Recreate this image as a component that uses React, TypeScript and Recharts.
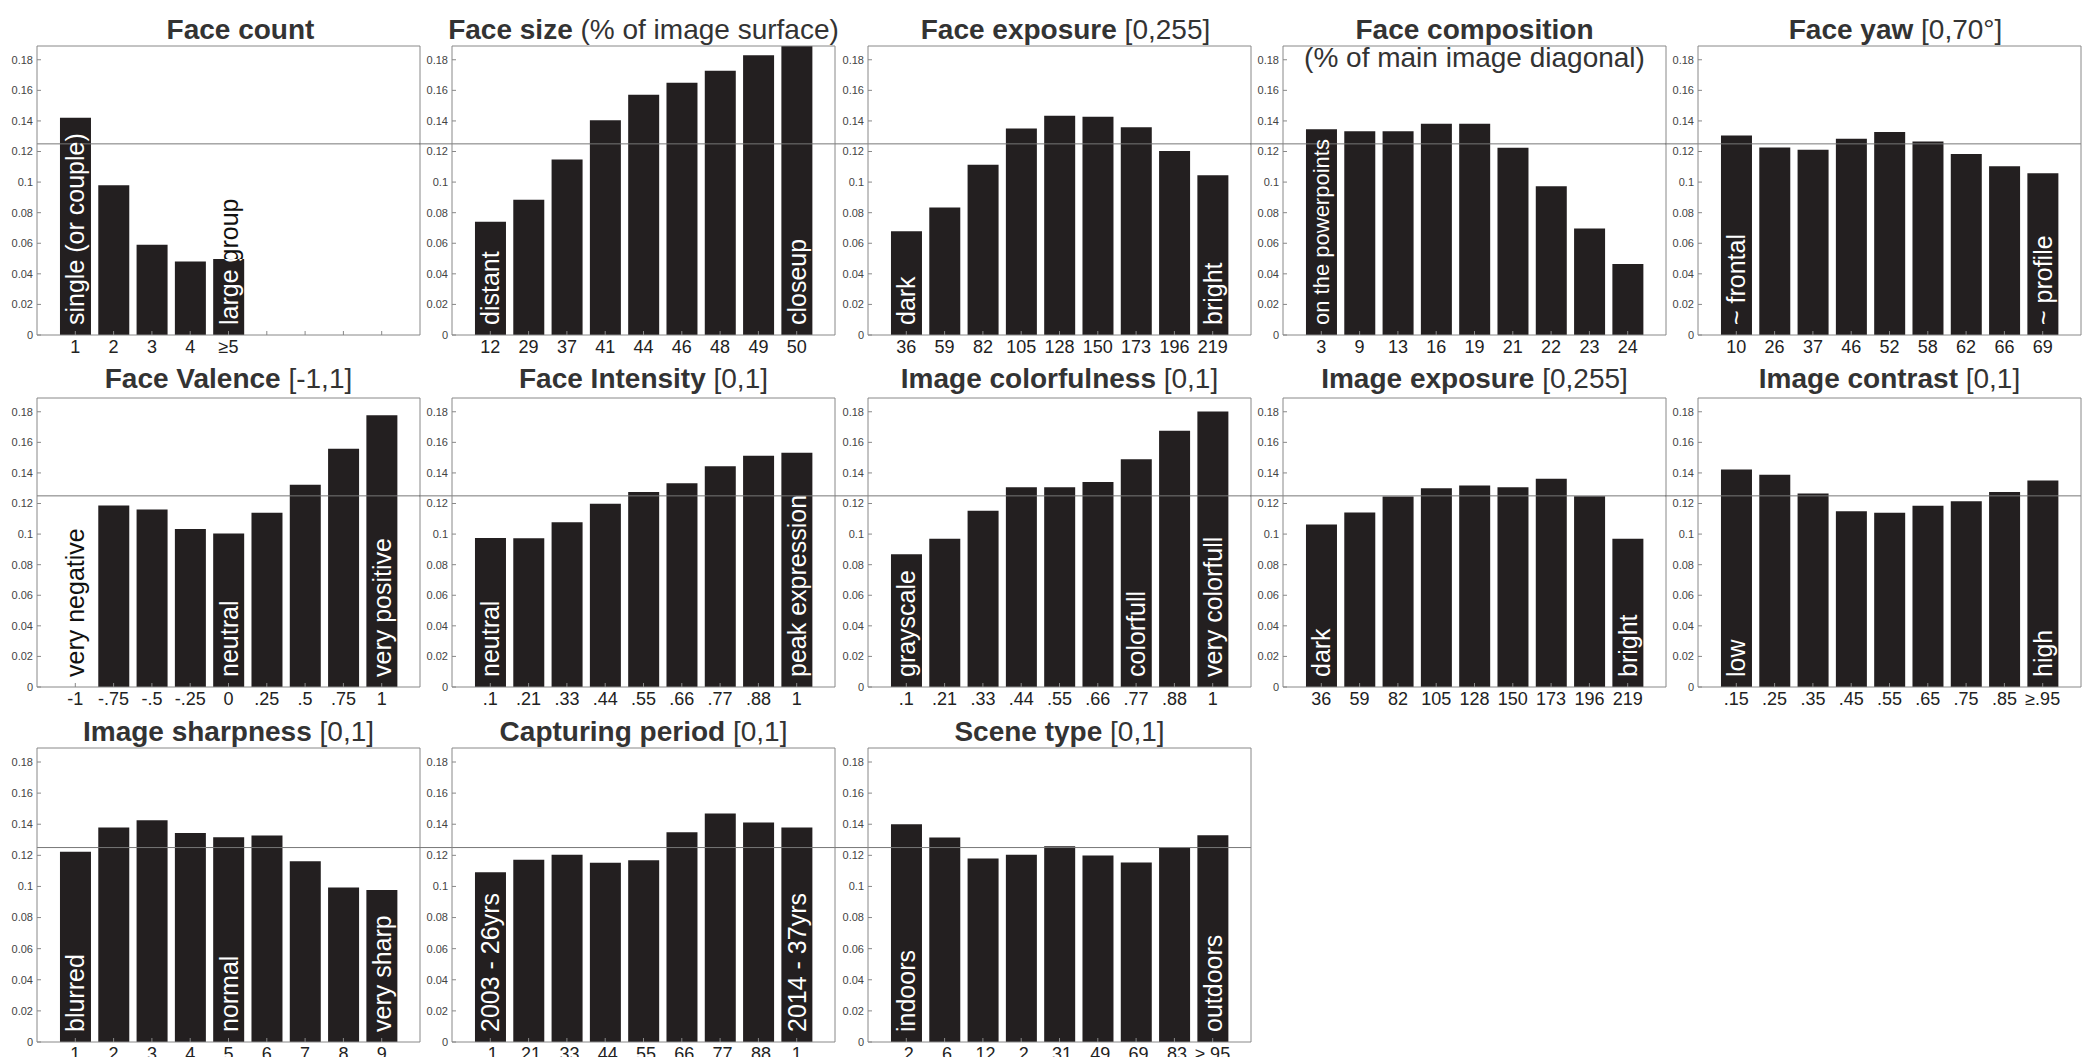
import React from "react";
import { BarChart, Bar, XAxis, YAxis, ReferenceLine, LabelList } from "recharts";

const yTicks = [0, 0.02, 0.04, 0.06, 0.08, 0.1, 0.12, 0.14, 0.16, 0.18];
const uniformLevel = 0.125;

// row 1
const faceCountTicks = ["1", "2", "3", "4", "≥5", "", "", "", ""];
const faceCountValues = [0.142, 0.098, 0.059, 0.048, 0.0497, 0, 0, 0, 0];
const faceCountNotes = ["single (or couple)", "", "", "", "large group", "", "", "", ""];

const faceSizeTicks = ["12", "29", "37", "41", "44", "46", "48", "49", "50"];
const faceSizeValues = [0.074, 0.0884, 0.1148, 0.1405, 0.1571, 0.165, 0.1728, 0.1829, 0.195];
const faceSizeNotes = ["distant", "", "", "", "", "", "", "", "closeup"];

const faceExposureTicks = ["36", "59", "82", "105", "128", "150", "173", "196", "219"];
const faceExposureValues = [0.0679, 0.0834, 0.1113, 0.1351, 0.1434, 0.1427, 0.1359, 0.1204, 0.1045];
const faceExposureNotes = ["dark", "", "", "", "", "", "", "", "bright"];

const faceCompTicks = ["3", "9", "13", "16", "19", "21", "22", "23", "24"];
const faceCompValues = [0.1346, 0.1333, 0.1333, 0.1381, 0.1381, 0.1224, 0.0973, 0.0696, 0.0465];
const faceCompNotes = ["on the powerpoints", "", "", "", "", "", "", "", ""];

const faceYawTicks = ["10", "26", "37", "46", "52", "58", "62", "66", "69"];
const faceYawValues = [0.1305, 0.1226, 0.1211, 0.1283, 0.1327, 0.1266, 0.1183, 0.1104, 0.1058];
const faceYawNotes = ["~ frontal", "", "", "", "", "", "", "", "~ profile"];

// row 2
const valenceTicks = ["-1", "-.75", "-.5", "-.25", "0", ".25", ".5", ".75", "1"];
const valenceValues = [0, 0.1187, 0.1161, 0.1034, 0.1004, 0.1139, 0.1322, 0.1558, 0.1778];
const valenceNotes = ["very negative", "", "", "", "neutral", "", "", "", "very positive"];

const intensityTicks = [".1", ".21", ".33", ".44", ".55", ".66", ".77", ".88", "1"];
const intensityValues = [0.0975, 0.0973, 0.1078, 0.1198, 0.1276, 0.1333, 0.1444, 0.1512, 0.1532];
const intensityNotes = ["neutral", "", "", "", "", "", "", "", "peak expression"];

const colorTicks = [".1", ".21", ".33", ".44", ".55", ".66", ".77", ".88", "1"];
const colorValues = [0.0868, 0.0969, 0.1152, 0.1307, 0.1307, 0.134, 0.149, 0.1676, 0.1802];
const colorNotes = ["grayscale", "", "", "", "", "", "colorfull", "", "very colorfull"];

const imgExposureTicks = ["36", "59", "82", "105", "128", "150", "173", "196", "219"];
const imgExposureValues = [0.1063, 0.1141, 0.1246, 0.13, 0.1318, 0.1307, 0.1362, 0.1248, 0.0969];
const imgExposureNotes = ["dark", "", "", "", "", "", "", "", "bright"];

const contrastTicks = [".15", ".25", ".35", ".45", ".55", ".65", ".75", ".85", "≥.95"];
const contrastValues = [0.1423, 0.1388, 0.1266, 0.115, 0.1139, 0.1185, 0.1215, 0.1276, 0.1351];
const contrastNotes = ["low", "", "", "", "", "", "", "", "high"];

// row 3
const sharpTicks = ["1", "2", "3", "4", "5", "6", "7", "8", "9"];
const sharpValues = [0.1223, 0.1379, 0.1426, 0.1344, 0.1316, 0.1327, 0.1162, 0.0994, 0.0977];
const sharpNotes = ["blurred", "", "", "", "normal", "", "", "", "very sharp"];

const periodTicks = [".1", ".21", ".33", ".44", ".55", ".66", ".77", ".88", "1"];
const periodValues = [0.1091, 0.1171, 0.1204, 0.1152, 0.1169, 0.1348, 0.1469, 0.1411, 0.1379];
const periodNotes = ["2003 - 26yrs", "", "", "", "", "", "", "", "2014 - 37yrs"];

const sceneTicks = [".2", ".6", ".12", ".2", ".31", ".49", ".69", ".83", "≥.95"];
const sceneValues = [0.14, 0.1314, 0.118, 0.1204, 0.1258, 0.1199, 0.1154, 0.1247, 0.1329];
const sceneNotes = ["indoors", "", "", "", "", "", "", "", "outdoors"];

const FONT = "'Liberation Sans', Arial, sans-serif";
const COL_LEFT = [37, 452, 868, 1283, 1698];
const ROW_TOP = [46, 398, 748];
const ROW_BOTTOM = [335, 687, 1042];
const ROW_BASELINE = [40, 389, 742];
const BOX_W = 383;
const AXIS_W = 33;
const Y_MAX = 0.189;
const TICK_MARGIN = 9;

const panels = [
  { id: "fc", row: 0, col: 0, bold: "Face count", rest: "", shift: 12, ticks: faceCountTicks, values: faceCountValues, notes: faceCountNotes },
  { id: "fs", row: 0, col: 1, bold: "Face size ", rest: "(% of image surface)", ticks: faceSizeTicks, values: faceSizeValues, notes: faceSizeNotes },
  { id: "fe", row: 0, col: 2, bold: "Face exposure ", rest: "[0,255]", shift: 6, ticks: faceExposureTicks, values: faceExposureValues, notes: faceExposureNotes },
  { id: "fp", row: 0, col: 3, bold: "Face composition", rest: "", sub: "(% of main image diagonal)", noteSize: 22, ticks: faceCompTicks, values: faceCompValues, notes: faceCompNotes },
  { id: "fy", row: 0, col: 4, bold: "Face yaw ", rest: "[0,70°]", shift: 6, ticks: faceYawTicks, values: faceYawValues, notes: faceYawNotes },
  { id: "fv", row: 1, col: 0, bold: "Face Valence ", rest: "[-1,1]", ticks: valenceTicks, values: valenceValues, notes: valenceNotes },
  { id: "fi", row: 1, col: 1, bold: "Face Intensity ", rest: "[0,1]", ticks: intensityTicks, values: intensityValues, notes: intensityNotes },
  { id: "ic", row: 1, col: 2, bold: "Image colorfulness ", rest: "[0,1]", ticks: colorTicks, values: colorValues, notes: colorNotes },
  { id: "ie", row: 1, col: 3, bold: "Image exposure ", rest: "[0,255]", ticks: imgExposureTicks, values: imgExposureValues, notes: imgExposureNotes },
  { id: "ik", row: 1, col: 4, bold: "Image contrast ", rest: "[0,1]", ticks: contrastTicks, values: contrastValues, notes: contrastNotes },
  { id: "is", row: 2, col: 0, bold: "Image sharpness ", rest: "[0,1]", ticks: sharpTicks, values: sharpValues, notes: sharpNotes },
  { id: "cp", row: 2, col: 1, bold: "Capturing period ", rest: "[0,1]", ticks: periodTicks, values: periodValues, notes: periodNotes },
  { id: "st", row: 2, col: 2, bold: "Scene type ", rest: "[0,1]", ticks: sceneTicks, values: sceneValues, notes: sceneNotes },
];

function Panel({ p }: { p: any }) {
  const boxTop = ROW_TOP[p.row];
  const boxH = ROW_BOTTOM[p.row] - boxTop;
  const data = p.ticks.map((t: string, i: number) => ({ label: t, value: p.values[i], note: p.notes[i] }));
  const pad = BOX_W / 20;
  const noteSize = p.noteSize || 25;
  const extLeft = p.col === 0 ? 0 : AXIS_W;

  const noteText = (cx: number, y0: number, fill: string, text: string) => (
    <text
      x={cx}
      y={y0}
      transform={`rotate(-90 ${cx} ${y0})`}
      textAnchor="start"
      dominantBaseline="central"
      fontFamily={FONT}
      fontSize={noteSize}
      fill={fill}
    >
      {text}
    </text>
  );

  // notes over drawn bars: black outside the bar, white inside it
  const renderNote = (props: any) => {
    const vb = props.viewBox || props;
    const text = props.value;
    if (!text || !(vb.height > 0)) return null;
    const cx = vb.x + vb.width / 2;
    const y0 = vb.y + vb.height - 10;
    const clipId = `clip-${p.id}-${props.index}`;
    return (
      <g>
        <defs>
          <clipPath id={clipId}>
            <rect x={vb.x} y={vb.y} width={vb.width} height={vb.height} />
          </clipPath>
        </defs>
        {noteText(cx, y0, "#111", text)}
        <g clipPath={`url(#${clipId})`}>{noteText(cx, y0, "#fff", text)}</g>
      </g>
    );
  };

  // tick label, plus the note of an empty slot (no bar) drawn in black
  const renderTick = (props: any) => {
    const { x, y, index, payload } = props;
    const baseY = y + 4 - TICK_MARGIN;
    const note = p.notes[index];
    return (
      <g>
        <text x={x} y={y} dy="0.71em" textAnchor="middle" fontSize={18} fill="#222" fontFamily={FONT}>
          {payload.value}
        </text>
        {note && !(p.values[index] > 0) ? noteText(x, baseY - 10, "#111", note) : null}
      </g>
    );
  };

  return (
    <div style={{ position: "absolute", left: COL_LEFT[p.col] - AXIS_W, top: boxTop - 1 }}>
      <BarChart
        width={AXIS_W + BOX_W + 1}
        height={boxH + 1 + 30}
        data={data}
        margin={{ top: 1, right: 1, bottom: 0, left: 0 }}
        barCategoryGap="10%"
      >
        <XAxis
          xAxisId="b"
          dataKey="label"
          height={30}
          interval={0}
          padding={{ left: pad, right: pad }}
          tickSize={-4}
          tickMargin={TICK_MARGIN}
          stroke="#888"
          tick={renderTick}
        />
        <XAxis
          xAxisId="t"
          dataKey="label"
          orientation="top"
          mirror
          interval={0}
          padding={{ left: pad, right: pad }}
          tick={false}
          tickSize={4}
          stroke="#888"
        />
        <YAxis
          yAxisId="l"
          domain={[0, Y_MAX]}
          ticks={yTicks}
          interval={0}
          allowDataOverflow
          width={AXIS_W}
          tickSize={-4}
          tickMargin={8}
          stroke="#888"
          tick={{ fontSize: 11, fill: "#444", fontFamily: FONT }}
        />
        <YAxis
          yAxisId="r"
          orientation="right"
          mirror
          domain={[0, Y_MAX]}
          ticks={yTicks}
          interval={0}
          allowDataOverflow
          tick={false}
          tickSize={4}
          stroke="#888"
        />
        <Bar dataKey="value" xAxisId="b" yAxisId="l" fill="#231f20" isAnimationActive={false}>
          <LabelList dataKey="note" content={renderNote} />
        </Bar>
        <ReferenceLine
          y={uniformLevel}
          xAxisId="b"
          yAxisId="l"
          stroke="#777"
          shape={(lp: any) => (
            <line x1={lp.x1 - extLeft} y1={lp.y1} x2={lp.x2} y2={lp.y2} stroke="#777" strokeWidth={1} />
          )}
        />
      </BarChart>
    </div>
  );
}

function Title({ p }: { p: any }) {
  const baseline = ROW_BASELINE[p.row];
  return (
    <div
      style={{
        position: "absolute",
        left: COL_LEFT[p.col] + BOX_W / 2 + (p.shift || 0),
        top: baseline - 24,
        transform: "translateX(-50%)",
        fontFamily: FONT,
        fontSize: 28,
        lineHeight: "28px",
        color: "#333",
        whiteSpace: "nowrap",
        textAlign: "center",
      }}
    >
      <b>{p.bold}</b>
      <span>{p.rest}</span>
      {p.sub ? <div>{p.sub}</div> : null}
    </div>
  );
}

export default function App() {
  return (
    <div style={{ position: "relative", width: 2084, height: 1057, background: "#fff", overflow: "hidden" }}>
      <style>{"body{margin:0}"}</style>
      {panels.map((p) => (
        <Panel key={p.id} p={p} />
      ))}
      {panels.map((p) => (
        <Title key={`t-${p.id}`} p={p} />
      ))}
    </div>
  );
}
